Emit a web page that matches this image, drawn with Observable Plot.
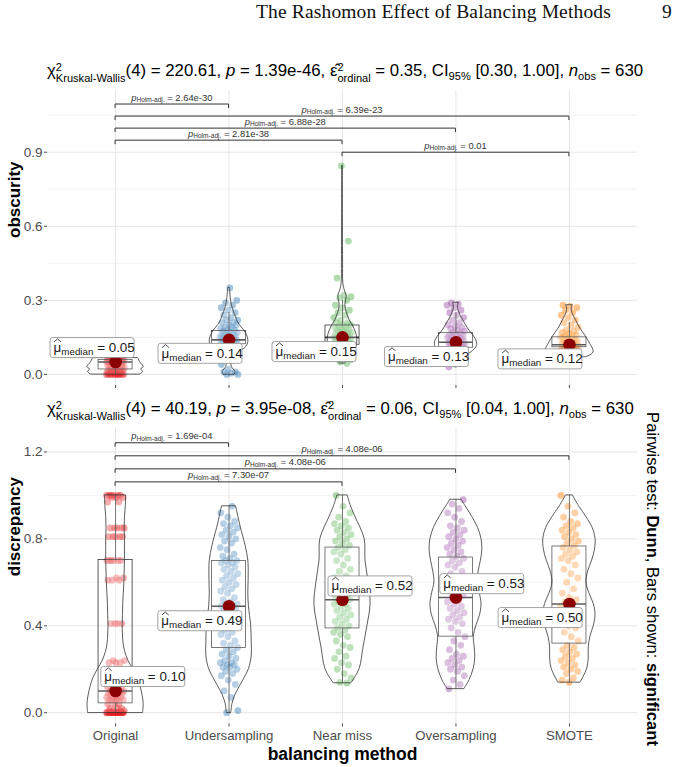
<!DOCTYPE html>
<html>
<head>
<meta charset="utf-8">
<script src="https://cdn.jsdelivr.net/npm/d3@7"></script>
<script src="https://cdn.jsdelivr.net/npm/@observablehq/plot@0.6"></script>
<style>
  html, body { margin: 0; padding: 0; background: #fff; }
  body { position: relative; width: 685px; height: 767px; overflow: hidden;
         font-family: "Liberation Sans", Arial, sans-serif; }
  .header { position: absolute; top: 1px; font-family: "Liberation Serif", "DejaVu Serif", serif;
            font-size: 19.5px; letter-spacing: 0.15px; color: #111; white-space: nowrap; }
  .title { position: absolute; left: 47px; font-size: 16.8px; color: #000; white-space: nowrap; }
  .ss { display: inline-block; vertical-align: -0.55em; font-size: 0.66em; line-height: 1.0; text-align: left; }
  .ss > span { display: block; }
  .title sub { font-size: 0.66em; vertical-align: -0.4em; line-height: 0; }
  .caption { position: absolute; left: 652px; top: 579px; transform: translate(-50%, -50%) rotate(90deg);
             white-space: nowrap; font-size: 16.6px; color: #000; }
  .panel { position: absolute; left: 0; }
</style>
</head>
<body>
<div class="header" style="left:256px">The Rashomon Effect of Balancing Methods</div>
<div class="header" style="left:662px">9</div>
<div class="title" id="title1" style="top:61px"></div>
<div class="panel" id="panel1" style="top:88px"></div>
<div class="title" id="title2" style="top:399px"></div>
<div class="panel" id="panel2" style="top:425px"></div>
<div class="caption">Pairwise test: <b>Dunn</b>, Bars shown: <b>significant</b></div>
<script>
// ---- groups ----
const categories = ["Original", "Undersampling", "Near miss", "Oversampling", "SMOTE"];
const palette = ["#E41A1C", "#377EB8", "#4DAF4A", "#984EA3", "#FF7F00"];

// ---- obscurity: observations per balancing method ----
const obscurityOriginal = [0, 0, 0, 0, 0, 0, 0, 0, 0, 0, 0.005, 0.005, 0.008, 0.01, 0.01, 0.012, 0.015, 0.018, 0.02, 0.02,
  0.022, 0.025, 0.028, 0.03, 0.032, 0.035, 0.038, 0.04, 0.042, 0.045, 0.046, 0.048, 0.05, 0.05, 0.05, 0.05, 0.051, 0.052,
  0.053, 0.054, 0.055, 0.055, 0.056, 0.057, 0.058, 0.058, 0.059, 0.06, 0.06, 0.061, 0.062, 0.063, 0.064, 0.065, 0.066];
const obscurityUndersampling = [0, 0, 0.005, 0.01, 0.01, 0.02, 0.04, 0.06, 0.07, 0.08, 0.09, 0.095, 0.1, 0.1, 0.105, 0.11,
  0.11, 0.115, 0.12, 0.12, 0.12, 0.125, 0.125, 0.13, 0.13, 0.13, 0.135, 0.135, 0.14, 0.14, 0.14, 0.14, 0.145, 0.145, 0.15,
  0.15, 0.15, 0.155, 0.155, 0.16, 0.16, 0.16, 0.165, 0.17, 0.17, 0.175, 0.18, 0.18, 0.185, 0.19, 0.19, 0.2, 0.2, 0.21,
  0.21, 0.22, 0.22, 0.23, 0.24, 0.25, 0.26, 0.27, 0.28, 0.29, 0.3, 0.35];
const obscurityNearMiss = [0.045, 0.05, 0.06, 0.07, 0.08, 0.085, 0.09, 0.095, 0.1, 0.1, 0.105, 0.11, 0.11, 0.115, 0.12,
  0.12, 0.125, 0.125, 0.13, 0.13, 0.135, 0.135, 0.14, 0.14, 0.145, 0.145, 0.15, 0.15, 0.15, 0.155, 0.155, 0.16, 0.16,
  0.165, 0.165, 0.17, 0.17, 0.175, 0.18, 0.18, 0.185, 0.19, 0.19, 0.195, 0.2, 0.2, 0.21, 0.21, 0.22, 0.23, 0.24, 0.25,
  0.26, 0.27, 0.28, 0.3, 0.31, 0.315, 0.32, 0.39, 0.54, 0.845];
const obscurityOversampling = [0.03, 0.05, 0.07, 0.08, 0.085, 0.09, 0.095, 0.1, 0.1, 0.105, 0.105, 0.11, 0.11, 0.115,
  0.115, 0.12, 0.12, 0.12, 0.125, 0.125, 0.13, 0.13, 0.13, 0.135, 0.135, 0.14, 0.14, 0.145, 0.145, 0.15, 0.15, 0.155,
  0.155, 0.16, 0.16, 0.165, 0.17, 0.175, 0.18, 0.185, 0.19, 0.195, 0.2, 0.21, 0.22, 0.23, 0.24, 0.25, 0.26, 0.27, 0.28,
  0.285, 0.29];
const obscuritySmote = [0.07, 0.075, 0.08, 0.085, 0.09, 0.09, 0.095, 0.095, 0.1, 0.1, 0.1, 0.105, 0.105, 0.11, 0.11, 0.11,
  0.115, 0.115, 0.12, 0.12, 0.12, 0.125, 0.125, 0.13, 0.13, 0.135, 0.135, 0.14, 0.14, 0.145, 0.15, 0.15, 0.155, 0.16,
  0.165, 0.17, 0.175, 0.18, 0.19, 0.2, 0.21, 0.22, 0.23, 0.24, 0.25, 0.26, 0.27, 0.275, 0.28];

// obscurity: box-plot summaries
const obscurityMedian = [0.05, 0.14, 0.15, 0.13, 0.12];
const obscurityQ1 = [0.02, 0.122, 0.12, 0.108, 0.11];
const obscurityQ3 = [0.058, 0.176, 0.198, 0.167, 0.15];
const obscurityWhiskerLow = [0, 0.05, 0.045, 0.03, 0.07];
const obscurityWhiskerHigh = [0.066, 0.25, 0.3, 0.25, 0.21];

// obscurity: violin outlines (value levels and relative density)
const obscurityViolinY = [
  [0, 0.01, 0.02, 0.03, 0.04, 0.05, 0.06, 0.066],
  [0, 0.01, 0.03, 0.05, 0.07, 0.09, 0.11, 0.13, 0.15, 0.17, 0.19, 0.21, 0.23, 0.25, 0.28, 0.31, 0.35],
  [0.045, 0.07, 0.1, 0.13, 0.16, 0.19, 0.22, 0.25, 0.28, 0.3, 0.32, 0.34, 0.37, 0.45, 0.6, 0.845],
  [0.03, 0.05, 0.07, 0.09, 0.11, 0.13, 0.15, 0.17, 0.19, 0.21, 0.23, 0.25, 0.27, 0.29],
  [0.07, 0.08, 0.09, 0.1, 0.11, 0.12, 0.13, 0.15, 0.17, 0.19, 0.21, 0.23, 0.25, 0.27, 0.28]
];
const obscurityViolinDensity = [
  [0.88, 0.97, 0.9, 1.0, 0.93, 0.86, 0.82, 0.78],
  [0.2, 0.22, 0.1, 0.08, 0.12, 0.35, 0.6, 0.68, 0.66, 0.58, 0.45, 0.32, 0.25, 0.18, 0.1, 0.06, 0.03],
  [0.1, 0.25, 0.45, 0.52, 0.5, 0.4, 0.25, 0.15, 0.1, 0.13, 0.14, 0.08, 0.03, 0.02, 0.015, 0.01],
  [0.05, 0.12, 0.3, 0.55, 0.72, 0.74, 0.66, 0.52, 0.4, 0.3, 0.2, 0.12, 0.07, 0.1],
  [0.6, 0.78, 0.85, 0.84, 0.8, 0.75, 0.7, 0.6, 0.48, 0.36, 0.27, 0.18, 0.1, 0.08, 0.12]
];

// obscurity: significant Dunn comparisons (top bar first)
const obscurityPairs = [[0, 1], [0, 4], [0, 3], [0, 2], [2, 4]];
const obscurityPairP = ["2.64e-30", "6.39e-23", "6.88e-28", "2.81e-38", "0.01"];

// ---- discrepancy: observations per balancing method ----
const discrepancyOriginal = [0, 0, 0, 0, 0, 0, 0, 0, 0, 0, 0, 0, 0, 0, 0, 0, 0, 0, 0.01, 0.01, 0.01, 0.01, 0.02, 0.02, 0.02,
  0.04, 0.04, 0.04, 0.06, 0.06, 0.06, 0.06, 0.07, 0.07, 0.07, 0.07, 0.09, 0.09, 0.09, 0.09, 0.1, 0.1, 0.1, 0.1, 0.1, 0.1,
  0.12, 0.12, 0.12, 0.13, 0.13, 0.23, 0.23, 0.23, 0.24, 0.24, 0.41, 0.41, 0.41, 0.41, 0.61, 0.61, 0.61, 0.62, 0.62,
  0.7, 0.7, 0.7, 0.7, 0.7, 0.7, 0.81, 0.81, 0.81, 0.81, 0.81, 0.85, 0.85, 0.85, 0.85, 0.85, 0.97, 0.97, 0.99, 0.99, 0.99,
  1, 1, 1, 1, 1, 1];
const discrepancyUndersampling = [0, 0.01, 0.07, 0.1, 0.13, 0.15, 0.17, 0.18, 0.19, 0.2, 0.21, 0.21, 0.22, 0.22, 0.23, 0.23,
  0.24, 0.25, 0.26, 0.27, 0.28, 0.29, 0.3, 0.31, 0.32, 0.33, 0.35, 0.36, 0.37, 0.38, 0.4, 0.41, 0.42, 0.43, 0.44, 0.45,
  0.46, 0.47, 0.48, 0.48, 0.49, 0.49, 0.5, 0.5, 0.51, 0.52, 0.53, 0.55, 0.56, 0.57, 0.58, 0.59, 0.6, 0.61, 0.62, 0.63,
  0.64, 0.65, 0.66, 0.67, 0.68, 0.69, 0.69, 0.7, 0.7, 0.71, 0.72, 0.73, 0.75, 0.76, 0.78, 0.79, 0.8, 0.81, 0.82, 0.83,
  0.84, 0.85, 0.86, 0.87, 0.88, 0.9, 0.92, 0.95];
const discrepancyNearMiss = [0.137, 0.14, 0.16, 0.18, 0.2, 0.22, 0.23, 0.25, 0.26, 0.28, 0.3, 0.31, 0.33, 0.35, 0.36, 0.37,
  0.38, 0.39, 0.4, 0.41, 0.42, 0.43, 0.44, 0.45, 0.46, 0.47, 0.48, 0.49, 0.5, 0.5, 0.51, 0.52, 0.52, 0.53, 0.54, 0.55,
  0.56, 0.57, 0.58, 0.6, 0.61, 0.62, 0.63, 0.65, 0.66, 0.68, 0.7, 0.71, 0.73, 0.74, 0.75, 0.76, 0.77, 0.78, 0.79, 0.8,
  0.81, 0.82, 0.83, 0.84, 0.85, 0.86, 0.87, 0.88, 0.9, 0.92, 0.95, 1];
const discrepancyOversampling = [0.11, 0.13, 0.15, 0.17, 0.19, 0.2, 0.21, 0.22, 0.23, 0.24, 0.25, 0.26, 0.27, 0.29, 0.31,
  0.33, 0.35, 0.37, 0.39, 0.41, 0.42, 0.43, 0.44, 0.45, 0.46, 0.47, 0.48, 0.49, 0.5, 0.51, 0.52, 0.53, 0.54, 0.55, 0.56,
  0.57, 0.58, 0.6, 0.62, 0.64, 0.65, 0.67, 0.68, 0.69, 0.7, 0.71, 0.72, 0.73, 0.74, 0.75, 0.76, 0.77, 0.78, 0.79, 0.8,
  0.81, 0.82, 0.83, 0.84, 0.85, 0.86, 0.88, 0.9, 0.92, 0.94, 0.96, 0.98];
const discrepancySmote = [0.14, 0.15, 0.16, 0.18, 0.19, 0.2, 0.21, 0.22, 0.23, 0.24, 0.25, 0.26, 0.27, 0.28, 0.29, 0.3,
  0.31, 0.33, 0.35, 0.37, 0.39, 0.4, 0.41, 0.42, 0.43, 0.44, 0.45, 0.46, 0.47, 0.48, 0.49, 0.5, 0.51, 0.52, 0.53, 0.55,
  0.57, 0.6, 0.62, 0.64, 0.66, 0.68, 0.7, 0.71, 0.72, 0.73, 0.74, 0.75, 0.76, 0.77, 0.78, 0.79, 0.8, 0.81, 0.82, 0.83,
  0.84, 0.85, 0.86, 0.87, 0.88, 0.9, 0.92, 0.95, 1];

// discrepancy: box-plot summaries
const discrepancyMedian = [0.10, 0.49, 0.52, 0.53, 0.50];
const discrepancyQ1 = [0.043, 0.298, 0.388, 0.35, 0.318];
const discrepancyQ3 = [0.703, 0.698, 0.76, 0.714, 0.765];
const discrepancyWhiskerLow = [0, 0, 0.137, 0.11, 0.14];
const discrepancyWhiskerHigh = [1, 0.95, 1, 0.98, 1];

// discrepancy: violin outlines (value levels and relative density)
const discrepancyViolinY = [
  [0, 0.04, 0.08, 0.12, 0.16, 0.2, 0.24, 0.28, 0.32, 0.36, 0.4, 0.45, 0.5, 0.55, 0.6, 0.65, 0.7, 0.75, 0.8, 0.85, 0.9, 0.95, 1],
  [0, 0.04, 0.08, 0.12, 0.16, 0.2, 0.26, 0.32, 0.4, 0.49, 0.55, 0.61, 0.7, 0.77, 0.85, 0.9, 0.95],
  [0.137, 0.2, 0.3, 0.4, 0.5, 0.6, 0.7, 0.8, 0.9, 0.95, 1],
  [0.11, 0.15, 0.2, 0.25, 0.3, 0.35, 0.4, 0.45, 0.5, 0.55, 0.6, 0.65, 0.7, 0.75, 0.8, 0.85, 0.9, 0.95, 0.98],
  [0.14, 0.2, 0.25, 0.3, 0.35, 0.4, 0.45, 0.5, 0.55, 0.6, 0.65, 0.7, 0.75, 0.8, 0.85, 0.9, 0.95, 1]
];
const discrepancyViolinDensity = [
  [0.97, 0.99, 0.95, 0.88, 0.78, 0.62, 0.45, 0.34, 0.28, 0.26, 0.25, 0.26, 0.27, 0.29, 0.31, 0.32, 0.33, 0.33, 0.33, 0.32, 0.33, 0.36, 0.37],
  [0.08, 0.12, 0.22, 0.38, 0.55, 0.7, 0.8, 0.8, 0.78, 0.7, 0.68, 0.69, 0.68, 0.58, 0.42, 0.33, 0.25],
  [0.32, 0.6, 0.74, 0.88, 0.99, 0.92, 0.81, 0.78, 0.46, 0.3, 0.18],
  [0.3, 0.48, 0.62, 0.68, 0.66, 0.63, 0.72, 0.85, 0.9, 0.84, 0.76, 0.8, 0.88, 0.93, 0.9, 0.78, 0.58, 0.34, 0.2],
  [0.4, 0.62, 0.68, 0.68, 0.74, 0.86, 0.92, 0.86, 0.7, 0.6, 0.66, 0.8, 0.9, 0.92, 0.82, 0.6, 0.34, 0.12]
];

// discrepancy: significant Dunn comparisons (top bar first)
const discrepancyPairs = [[0, 1], [0, 4], [0, 3], [0, 2]];
const discrepancyPairP = ["1.69e-04", "4.08e-06", "4.08e-06", "7.30e-07"];

// ---- Kruskal-Wallis summaries (obscurity, discrepancy) ----
const kwChi2 = ["220.61", "40.19"];
const kwP = ["1.39e-46", "3.95e-08"];
const kwEpsilon = ["0.35", "0.06"];
const kwCILow = ["0.30", "0.04"];
const kwCIHigh = ["1.00", "1.00"];
const kwN = ["630", "630"];

// ---------------------------------------------------------------
function statTitle(k) {
  return `χ<span class="ss"><span>2</span><span>Kruskal-Wallis</span></span>(4) = ${kwChi2[k]}, ` +
    `<i>p</i> = ${kwP[k]}, ε̂<span class="ss"><span>2</span><span>ordinal</span></span> = ${kwEpsilon[k]}, ` +
    `CI<sub>95%</sub> [${kwCILow[k]}, ${kwCIHigh[k]}], <i>n</i><sub>obs</sub> = ${kwN[k]}`;
}
document.getElementById("title1").innerHTML = statTitle(0);
document.getElementById("title2").innerHTML = statTitle(1);

const violinHalfWidth = 0.25;   // violin width 0.5 (in category steps)
const boxHalfWidth = 0.15;      // box width 0.3
const jitterHalfWidth = 0.08;

function pointRows(groups) {
  const rows = [];
  groups.forEach((vals, g) => {
    vals.forEach((v, k) => {
      const jitter = (((k * 0.6180339887 + g * 0.37) % 1) - 0.5) * 2 * jitterHalfWidth;
      rows.push({cat: categories[g], x: g + jitter, y: v});
    });
  });
  return rows;
}

function violinRows(ys, ds) {
  const rows = [];
  ys.forEach((levels, g) => {
    levels.forEach((y, k) => {
      const w = ds[g][k] * violinHalfWidth;
      rows.push({g, y, x1: g - w, x2: g + w});
    });
  });
  return rows;
}

// median labels: white rounded boxes reading "μ̂_median = value"
function medianLabels(meds, offsets) {
  return (index, {x, y}) => {
    const g = d3.create("svg:g");
    meds.forEach((m, i) => {
      const cx = x(i) + offsets[i][0], cy = y(m) + offsets[i][1];
      const w = 84, h = 20;
      const left = cx - w / 2;
      g.append("rect").attr("x", left).attr("y", cy - h / 2).attr("width", w).attr("height", h)
        .attr("rx", 2.5).attr("fill", "#fff").attr("stroke", "#8c8c8c").attr("stroke-width", 0.8);
      const tx = left + 3.5, ty = cy + 4.5;
      const t = g.append("text").attr("x", tx).attr("y", ty).attr("text-anchor", "start")
        .attr("font-size", 13.4).attr("fill", "#1a1a1a");
      t.append("tspan").text("μ");
      t.append("tspan").attr("font-size", 9.8).attr("dy", 3).text("median");
      t.append("tspan").attr("dy", -3).text(" = " + m.toFixed(2));
      // hat over μ
      g.append("path").attr("d", `M${tx + 0.6},${ty - 10.2}L${tx + 4},${ty - 13.2}L${tx + 7.4},${ty - 10.2}`)
        .attr("fill", "none").attr("stroke", "#1a1a1a").attr("stroke-width", 0.8);
    });
    return g.node();
  };
}

// significance brackets with Holm-adjusted p-values
function sigBars(pairs, pvals, base, step) {
  return (index, {x, y}) => {
    const g = d3.create("svg:g");
    const n = pairs.length;
    pairs.forEach(([a, b], k) => {
      const yy = y(base + step * (n - 1 - k));
      const xa = x(a), xb = x(b);
      g.append("path").attr("d", `M${xa},${yy + 4}V${yy}H${xb}V${yy + 4}`)
        .attr("fill", "none").attr("stroke", "#333").attr("stroke-width", 1);
      const t = g.append("text").attr("x", (xa + xb) / 2).attr("y", yy - 3.5).attr("text-anchor", "middle")
        .attr("font-size", 9.4).attr("fill", "#333");
      t.append("tspan").attr("font-style", "italic").text("p");
      t.append("tspan").attr("font-size", 6.6).attr("dy", 1.6).text("Holm-adj.");
      t.append("tspan").attr("dy", -1.6).text(" = " + pvals[k]);
    });
    return g.node();
  };
}

function panel(opts) {
  const points = pointRows(opts.groups);
  const violins = violinRows(opts.violinY, opts.violinD);
  const boxes = categories.map((c, i) => ({
    i, x1: i - boxHalfWidth, x2: i + boxHalfWidth,
    q1: opts.q1[i], q3: opts.q3[i], med: opts.med[i], lo: opts.lo[i], hi: opts.hi[i]
  }));
  return Plot.plot({
    width: 685,
    height: opts.height,
    marginLeft: 47,
    marginRight: 48,
    marginTop: opts.marginTop,
    marginBottom: opts.marginBottom,
    x: {domain: [-0.6, 4.6], axis: null},
    y: {domain: opts.yDomain, axis: null},
    color: {type: "ordinal", domain: categories, range: palette},
    style: {fontFamily: "'Liberation Sans', Arial, sans-serif", background: "transparent", overflow: "visible"},
    marks: [
      Plot.gridY({ticks: opts.minorTicks, stroke: "#f0f0f0", strokeOpacity: 1, strokeWidth: 0.8}),
      Plot.gridY({ticks: opts.majorTicks, stroke: "#e6e6e6", strokeOpacity: 1, strokeWidth: 1}),
      Plot.gridX({ticks: [0, 1, 2, 3, 4], stroke: "#e6e6e6", strokeOpacity: 1, strokeWidth: 1}),
      Plot.axisY({ticks: opts.majorTicks, tickFormat: d3.format(".1f"), tickSize: 3, tickPadding: 2,
        fontSize: 13.5, color: "#4d4d4d", label: null}),
      Plot.axisX({ticks: [0, 1, 2, 3, 4], tickSize: 3, tickPadding: 4, fontSize: 13.2, color: "#4d4d4d",
        tickFormat: opts.showXLabels ? (i => categories[i]) : (() => ""), label: null}),
      Plot.text([opts.yLabel], {frameAnchor: "left", rotate: -90, dx: -33, fontSize: 17, fontWeight: "bold", fill: "#000"}),
      ...(opts.showXLabels
        ? [Plot.text(["balancing method"], {frameAnchor: "bottom", dy: 36, fontSize: 17.5, fontWeight: "bold", fill: "#000"})]
        : []),
      Plot.dot(points, {x: "x", y: "y", fill: "cat", fillOpacity: 0.45, r: 3.4, stroke: null}),
      Plot.rect(boxes, {x1: "x1", x2: "x2", y1: "q1", y2: "q3", fill: "#fff", fillOpacity: 0.2,
        stroke: "#333", strokeWidth: 0.8}),
      Plot.ruleX(boxes, {x: "i", y1: "lo", y2: "q1", stroke: "#333", strokeWidth: 0.8}),
      Plot.ruleX(boxes, {x: "i", y1: "q3", y2: "hi", stroke: "#333", strokeWidth: 0.8}),
      Plot.ruleY(boxes, {y: "med", x1: "x1", x2: "x2", stroke: "#333", strokeWidth: 1.6}),
      Plot.areaX(violins, {y: "y", x1: "x1", x2: "x2", z: "g", fill: "#fff", fillOpacity: 0.2,
        stroke: "#333", strokeWidth: 0.8, curve: "catmull-rom"}),
      Plot.dot(boxes, {x: "i", y: "med", fill: "#8B0000", r: 6.3, stroke: null}),
      medianLabels(opts.med, opts.labelOffsets),
      sigBars(opts.pairs, opts.pvals, opts.barBase, opts.barStep)
    ]
  });
}

document.getElementById("panel1").append(panel({
  groups: [obscurityOriginal, obscurityUndersampling, obscurityNearMiss, obscurityOversampling, obscuritySmote],
  med: obscurityMedian, q1: obscurityQ1, q3: obscurityQ3, lo: obscurityWhiskerLow, hi: obscurityWhiskerHigh,
  violinY: obscurityViolinY, violinD: obscurityViolinDensity,
  pairs: obscurityPairs, pvals: obscurityPairP, barBase: 0.898, barStep: 0.0488,
  yDomain: [-0.045, 1.15], height: 305, marginTop: 2, marginBottom: 8,
  majorTicks: [0, 0.3, 0.6, 0.9], minorTicks: [0.15, 0.45, 0.75, 1.05],
  yLabel: "obscurity", showXLabels: false,
  labelOffsets: [[-23, -14], [-28.5, 14], [-28, 14.7], [-29, 14.7], [-29, 14.6]]
}));

document.getElementById("panel2").append(panel({
  groups: [discrepancyOriginal, discrepancyUndersampling, discrepancyNearMiss, discrepancyOversampling, discrepancySmote],
  med: discrepancyMedian, q1: discrepancyQ1, q3: discrepancyQ3, lo: discrepancyWhiskerLow, hi: discrepancyWhiskerHigh,
  violinY: discrepancyViolinY, violinD: discrepancyViolinDensity,
  pairs: discrepancyPairs, pvals: discrepancyPairP, barBase: 1.06, barStep: 0.06,
  yDomain: [-0.052, 1.308], height: 342, marginTop: 3, marginBottom: 43.5,
  majorTicks: [0, 0.4, 0.8, 1.2], minorTicks: [0.2, 0.6, 1.0],
  yLabel: "discrepancy", showXLabels: true,
  labelOffsets: [[27.7, -14], [-28.7, 15], [28, -13.3], [26.3, -13.4], [-28.8, 14]]
}));
</script>
</body>
</html>
